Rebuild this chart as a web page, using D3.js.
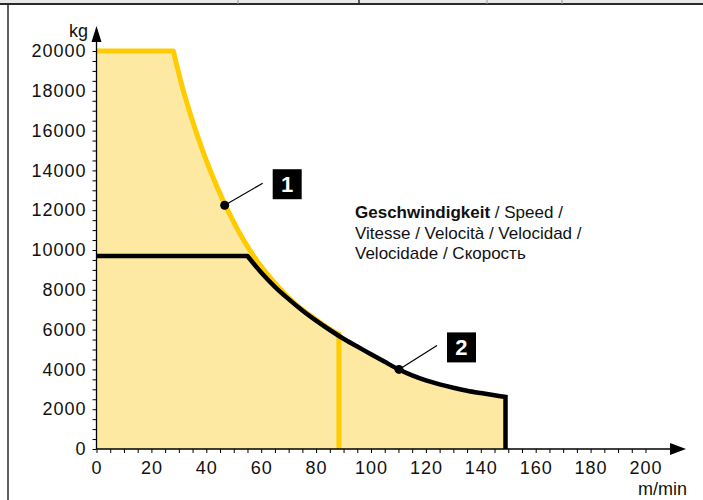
<!DOCTYPE html>
<html><head><meta charset="utf-8">
<script src="https://cdn.jsdelivr.net/npm/d3@7"></script>
<style>
html,body{margin:0;padding:0;background:#fff;}
svg{display:block;font-family:"Liberation Sans",Arial,sans-serif;}
</style></head>
<body><svg id="c" width="703" height="500"></svg>
<script>
// ---- data ----
const speedYellow = [0, 28, 31, 34, 37, 40, 44, 48, 52, 56, 60, 65, 70, 75, 80, 85, 88.3];
const loadYellow  = [20000, 20000, 18320, 16910, 15650, 14500, 13140, 11940, 10880, 9960, 9170, 8330, 7600, 7000, 6500, 6020, 5750];
const speedBlack  = [0, 55, 60, 65, 70, 75, 80, 85, 90, 95, 100, 105, 110, 115, 120, 125, 130, 135, 140, 145, 149];
const loadBlack   = [9700, 9700, 8870, 8150, 7530, 6960, 6450, 5980, 5540, 5150, 4760, 4380, 4010, 3700, 3450, 3250, 3080, 2930, 2810, 2700, 2610];
const markerIds    = ["1", "2"];
const markerSpeeds = [46.7, 110.2];
const markerLoads  = [12250, 4000];
const xTickValues = d3.range(0, 201, 5);
const xLabelValues = [0,20,40,60,80,100,120,140,160,180,200];
const yTickValues = d3.range(0, 20001, 500);
const yLabelValues = [0,2000,4000,6000,8000,10000,12000,14000,16000,18000,20000];
const xUnit = "m/min", yUnit = "kg";
const legendLines = [
  [{t:"Geschwindigkeit", b:true},{t:" / Speed /", b:false}],
  [{t:"Vitesse / Velocità / Velocidad /", b:false}],
  [{t:"Velocidade / Скорость", b:false}]
];

const svg = d3.select("#c");
const x = d3.scaleLinear().domain([0,200]).range([96.5, 645.5]);
const y = d3.scaleLinear().domain([0,20000]).range([449, 51]);

// frame
svg.append("rect").attr("x",0).attr("y",0).attr("width",703).attr("height",3).attr("fill","#e8e8e8");
svg.append("line").attr("x1",0).attr("x2",703).attr("y1",4).attr("y2",4).attr("stroke","#2a2a2a").attr("stroke-width",2);
svg.append("line").attr("x1",359).attr("x2",359).attr("y1",0).attr("y2",4).attr("stroke","#2a2a2a").attr("stroke-width",1.5);
[238,487,562].forEach(px=>svg.append("line").attr("x1",px).attr("x2",px).attr("y1",0).attr("y2",4).attr("stroke","#999").attr("stroke-width",1));
svg.append("line").attr("x1",8).attr("x2",8).attr("y1",4).attr("y2",500).attr("stroke","#2a2a2a").attr("stroke-width",1.5);

const yellowPts = speedYellow.map((s,i)=>[s, loadYellow[i]]);
const blackPts = speedBlack.map((s,i)=>[s, loadBlack[i]]);
const fillCol = "#fee9a2";

// flat part straight, falling part smooth
const curveGen = d3.line().x(d=>x(d[0])).y(d=>y(d[1])).curve(d3.curveCatmullRom.alpha(0.5));
function profilePath(pts){
  const p0 = pts[0];
  return `M${x(p0[0])},${y(p0[1])}L` + curveGen(pts.slice(1)).slice(1);
}
function areaPath(pts){
  const last = pts[pts.length-1];
  return `M${x(0)},${y(0)}L` + profilePath(pts).slice(1) + `L${x(last[0])},${y(0)}Z`;
}
svg.append("path").attr("d", areaPath(yellowPts)).attr("fill", fillCol);
svg.append("path").attr("d", areaPath(blackPts)).attr("fill", fillCol);

function drawCurve(pts, color, w){
  const g = svg.append("g");
  const last = pts[pts.length-1];
  g.append("path").attr("d", profilePath(pts)).attr("fill","none").attr("stroke",color).attr("stroke-width",w).attr("stroke-linejoin","round");
  g.append("line").attr("x1",x(last[0])).attr("x2",x(last[0])).attr("y1",y(last[1])-w/2).attr("y2",y(0)).attr("stroke",color).attr("stroke-width",w);
}
drawCurve(yellowPts, "#ffcc00", 5);
drawCurve(blackPts, "#000", 4.5);

// axes
const tickFont = "18px";
const gx = svg.append("g").attr("transform",`translate(0,${y(0)})`)
  .call(d3.axisBottom(x).tickValues(xTickValues).tickSize(4).tickPadding(8)
    .tickFormat(d=> xLabelValues.includes(d) ? d : ""));
gx.select(".domain").remove();
gx.selectAll("line").attr("stroke","#000");
gx.selectAll("text").attr("font-size",tickFont).attr("fill","#111").attr("font-family","Liberation Sans, Arial").style("letter-spacing","1px");

const gy = svg.append("g").attr("transform",`translate(${x(0)},0)`)
  .call(d3.axisLeft(y).tickValues(yTickValues).tickSize(4).tickPadding(6)
    .tickFormat(d=> yLabelValues.includes(d) ? d : ""));
gy.select(".domain").remove();
gy.selectAll("line").attr("stroke","#000");
gy.selectAll("text").attr("font-size",tickFont).attr("fill","#111").attr("font-family","Liberation Sans, Arial").style("letter-spacing","1px");

// axis lines with arrows
const x0 = x(0), y0 = y(0);
svg.append("line").attr("x1",x0).attr("x2",x0).attr("y1",y0).attr("y2",40).attr("stroke","#000").attr("stroke-width",1.3);
svg.append("path").attr("d",`M${x0},26 L${x0-5},42 L${x0+5},42 Z`).attr("fill","#000");
svg.append("line").attr("x1",x0).attr("x2",672).attr("y1",y0).attr("y2",y0).attr("stroke","#000").attr("stroke-width",1.3);
svg.append("path").attr("d",`M686,${y0} L670,${y0-6} L670,${y0+6} Z`).attr("fill","#000");

svg.append("text").attr("x",88).attr("y",37).attr("text-anchor","end").attr("font-size","18px").attr("fill","#111").text(yUnit);
svg.append("text").attr("x",687).attr("y",495).attr("text-anchor","end").attr("font-size","18px").attr("fill","#111").text(xUnit);

// markers
const offsets = [{lx:38, ly:-22, bx:48, by:-36}, {lx:38, ly:-24, bx:48, by:-37}];
markerIds.forEach((id,i)=>{
  const cx = x(markerSpeeds[i]), cy = y(markerLoads[i]);
  const o = offsets[i];
  svg.append("line").attr("x1",cx).attr("y1",cy).attr("x2",cx+o.lx).attr("y2",cy+o.ly).attr("stroke","#000").attr("stroke-width",1.2);
  svg.append("circle").attr("cx",cx).attr("cy",cy).attr("r",4.5).attr("fill","#000");
  svg.append("rect").attr("x",cx+o.bx).attr("y",cy+o.by).attr("width",29).attr("height",30).attr("fill","#000");
  svg.append("text").attr("x",cx+o.bx+14.5).attr("y",cy+o.by+23).attr("text-anchor","middle")
    .attr("font-size","22px").attr("font-weight","bold").attr("fill","#fff").text(id);
});

// legend text
legendLines.forEach((parts,i)=>{
  const t = svg.append("text").attr("x",355).attr("y",218+i*20.5).attr("font-size","17px").attr("fill","#111");
  parts.forEach(p=>t.append("tspan").attr("font-weight",p.b?"bold":"normal").text(p.t));
});
</script></body></html>
